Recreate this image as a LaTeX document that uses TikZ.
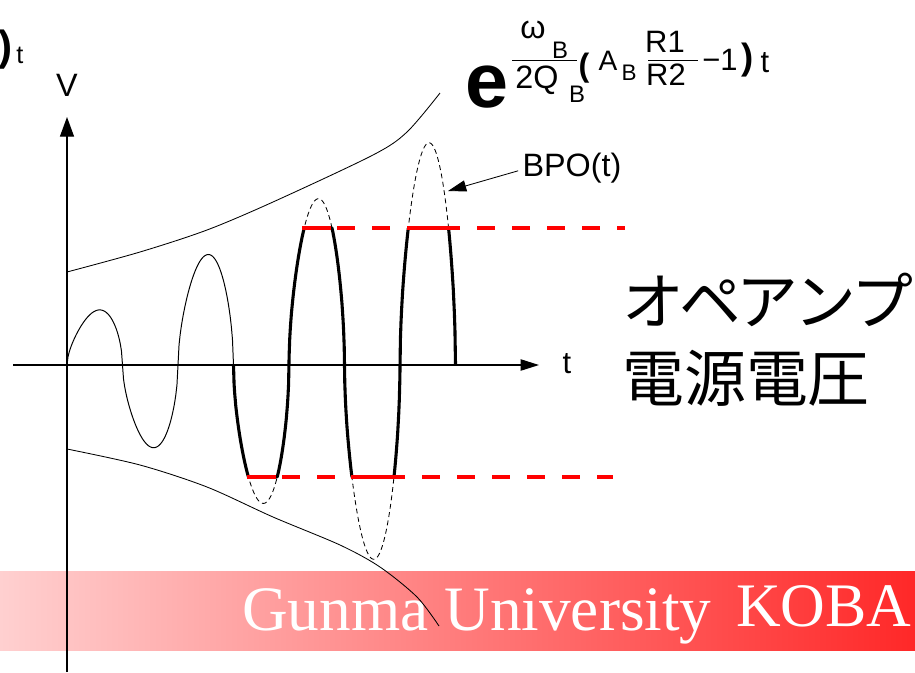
\documentclass[tikz,border=0pt]{standalone}
\usepackage{fontspec}
\setmainfont{Liberation Sans}
\newfontfamily\serifbanner{Liberation Serif}
\newfontfamily\jpfont{Noto Sans CJK JP}
\usepackage{tikz}
\usetikzlibrary{arrows.meta}

\newcommand{\fsz}[1]{\fontsize{#1}{#1}\selectfont}
\newcommand{\jk}{\hspace{-0.075em}}
\definecolor{bannerlight}{RGB}{255,208,208}
\definecolor{bannerred}{RGB}{255,40,40}

\begin{document}
\begin{tikzpicture}[x=0.025cm, y=-0.025cm,
	every node/.style={inner sep=0pt},
	axisline/.style={line width=0.9pt},
	envline/.style={line width=0.6pt},
	thinwave/.style={line width=0.7pt},
	bpowave/.style={line width=0.6pt, dash pattern=on 3.5pt off 2.5pt},
	clipwave/.style={line width=2.2pt, line join=round},
	rail/.style={red, line width=2.2pt, dash pattern=on 12.8pt off 12.1pt},
	railflat/.style={red, line width=2.2pt},
	declare function={
		amp(\t)=0.505*\t+6;
		sn(\t)=sin((\t-67)/55.5*180);
		fat(\s)=\s/(abs(\s)+0.001)*exp(0.55*ln(abs(\s)+0.001));
		wav(\t)=amp(\t)*fat(sn(\t));
		clp(\t)=max(-112,min(137,wav(\t)));
	}]
				\useasboundingbox (0,0) rectangle (915,672);
				
				% banner
				\shade[left color=bannerlight, right color=bannerred] (0,571) rectangle (915,650);
				\node[anchor=base west, text=white, font=\serifbanner\fsz{45}] (gunma) at (242,630) {Gunma University};
				\node[anchor=base west, text=white, font=\serifbanner\fsz{44}] (koba) at (736,626) {KOBA};
				
				% axes
				\coordinate (vbot) at (67,672);
				\coordinate (vtop) at (67,117);
				\coordinate (hleft) at (13,365);
				\coordinate (hright) at (539,365);
				\draw[axisline, -{Triangle[length=14pt,width=10pt]}] (vbot) -- (vtop);
				\draw[axisline, -{Triangle[length=13pt,width=8pt]}] (hleft) -- (hright);
				\node[font=\fsz{23}] (vlbl) at (67,85) {V};
				\node[font=\fsz{22}] (tlbl) at (567,364) {t};
				
				% envelopes
				\draw[envline] plot[smooth] coordinates {(67,272) (140,252) (207,230) (273,202) (373,155) (407,132) (440,93)};
				\draw[envline] plot[smooth] coordinates {(67,449) (140,465) (207,487) (273,517) (340,545) (380,567) (417,597) (439,626)};
				
				% oscillation
				\draw[thinwave] plot[domain=67:233.5, samples=160] (\x,{365-wav(\x)});
				\draw[bpowave] plot[domain=233.5:455.5, samples=220, smooth] (\x,{365-wav(\x)});
				\draw[clipwave] plot[domain=233.5:455.5, samples=400] (\x,{365-clp(\x)});
				
				% supply rails
				\draw[rail] (302,228) -- (625,228);
				\draw[rail] (247,477) -- (613,477);
				\draw[railflat] (303,228) -- (331,228) (408,228) -- (449,228);
				\draw[railflat] (247,477) -- (276,477) (351,477) -- (393,477);
				
				% BPO label
				\node[font=\fsz{23}] (bpolbl) at (572,168) {BPO(t)};
				\coordinate (bpotip) at (448,191);
				\draw[line width=0.6pt, -{Triangle[length=13pt,width=8pt]}] ([xshift=-3pt,yshift=-2pt]bpolbl.west) -- (bpotip);
				
				\node[anchor=west, font=\jpfont\fsz{44}] (opamp) at (622,300) {オ\jk ペ\jk ア\jk ン\jk プ};
				\node[anchor=west, font=\jpfont\fsz{44}] (supply) at (622,378) {電源電圧};
				
				% growth factor
				\node[font=\bfseries\fsz{55}] (expe) at (487,87) {e};
				\node[font=\fsz{23}] (omega) at (533,30) {ω};
				\node[anchor=base, font=\fsz{17}] (omsub) at (560,58) {B};
				\draw[line width=0.7pt] (512,60) -- (577,60);
				\node[anchor=base, font=\fsz{23}] (twoq) at (537,88) {2Q};
				\node[anchor=base, font=\fsz{17}] (qsub) at (577,102) {B};
				\node[font=\bfseries\fsz{23}] (lpar) at (584,68) {(};
				\node[anchor=base, font=\fsz{20}] (abig) at (608,70) {A};
				\node[anchor=base, font=\fsz{16}] (asub) at (629,80) {B};
				\node[anchor=base, font=\fsz{22}] (rone) at (665,52) {R1};
				\draw[line width=0.7pt] (648,60) -- (698,60);
				\node[anchor=base, font=\fsz{22}] (rtwo) at (666,85) {R2};
				\node[anchor=base, font=\fsz{22}] (minone) at (720,70) {−1};
				\node[font=\bfseries\fsz{26}] (rpar) at (748,60) {)};
				\node[anchor=base, font=\fsz{22}] (tfac) at (765,72) {t};
				
				% cut-off factor, top left
				\node[anchor=east, font=\bfseries\fsz{30}] (rparcut) at (13,50) {)};
				\node[anchor=base, font=\fsz{18}] (tcut) at (20,63) {t};
\end{tikzpicture}
\end{document}
